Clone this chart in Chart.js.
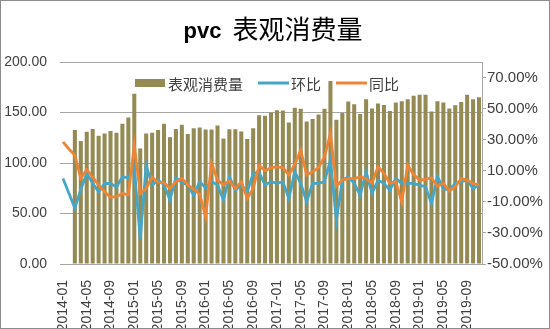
<!DOCTYPE html>
<html>
<head>
<meta charset="utf-8">
<script src="https://cdn.jsdelivr.net/npm/chart.js@4.4.0/dist/chart.umd.min.js"></script>
<style>
  html, body { margin: 0; padding: 0; background: #ffffff; }
  #wrap { width: 550px; height: 329px; }
</style>
</head>
<body>
<div id="wrap"><canvas id="c" width="550" height="329"></canvas></div>
<script>
// Months, 2014-01 .. 2019-11
const months = [
  '2014-01','2014-02','2014-03','2014-04','2014-05','2014-06','2014-07','2014-08','2014-09','2014-10','2014-11','2014-12',
  '2015-01','2015-02','2015-03','2015-04','2015-05','2015-06','2015-07','2015-08','2015-09','2015-10','2015-11','2015-12',
  '2016-01','2016-02','2016-03','2016-04','2016-05','2016-06','2016-07','2016-08','2016-09','2016-10','2016-11','2016-12',
  '2017-01','2017-02','2017-03','2017-04','2017-05','2017-06','2017-07','2017-08','2017-09','2017-10','2017-11','2017-12',
  '2018-01','2018-02','2018-03','2018-04','2018-05','2018-06','2018-07','2018-08','2018-09','2018-10','2018-11','2018-12',
  '2019-01','2019-02','2019-03','2019-04','2019-05','2019-06','2019-07','2019-08','2019-09','2019-10','2019-11'
];

// 表观消费量 (left axis)
const consumption = [
  null, null, 132.6, 121.7, 130.9, 133.6, 127, 129.3, 131.6, 129.9, 138.8, 145.1,
  168.6, 114.4, 129.3, 129.9, 132.6, 138.8, 125.6, 133.6, 137.9, 128.6, 134.5, 135.2,
  133.2, 133.2, 137.1, 124.2, 133.5, 133.5, 131.3, 123.8, 134.3, 147.3, 146.8, 150,
  152.3, 152, 140.2, 154.6, 153.7, 141, 143.6, 148, 153.8, 181.2, 142.8, 149.5,
  160.8, 158.2, 148.5, 163.2, 153.9, 158.8, 157.4, 151.6, 159.8, 161.2, 163.2, 166.7,
  167.5, 167.5, 151, 161.2, 159.8, 154, 157.3, 160.3, 167.5, 163.2, 165.2
];

// 环比, percent (right axis)
const mom = [
  5, -4.5, -14, -2, 8.3, 2, -3.5, 1.8, 1.8, -0.5, 6, 5.5,
  12, -34, 13.6, 0.8, 4, 1, -8.8, 5.5, 2.5, 1, -6, 3,
  -1, 3, 0.8, -8.8, 6.2, -2.4, 0.8, -3.5, 8.3, 9, 0.8, 3,
  1.9, 3, -7.8, 9.3, 1.9, -9.9, 1.9, 1.9, 3, 17, -21.7, 4,
  6, 1.9, -5.7, 9.3, -4.6, 4, 1.9, -2.5, 5, 1.9, 1.9, 1.9,
  0.8, -0.3, -11, 6.2, -1.4, -2.5, 1.9, 3, 4, -1.4, 0.8
];

// 同比, percent (right axis)
const yoy = [
  28.6, 24, 20, 5, 10.8, 6, 0.8, -3.5, -7, -6.7, -4.6, -5.5,
  26.5, -4.6, -1.4, 6, 2.5, 2.5, -1.4, 3, 5, 1, -2, -5,
  -19.6, 15, 4, 1, 3.5, -1.5, 3, -7.8, -1.4, 13.6, 10, 12,
  12.5, 12, 7.3, 14, 23.3, 7.3, 9.3, 12, 19, 34, 0, 4,
  5, 5, 6, 5, 2, 12.6, 8.3, 2, 3, -10, 13.6, 7.5,
  4, 4.5, 5.5, 0, 2, -3, -0.3, 5, 4, 1.9, 0.8
];

// Axis tick values
const leftTicks = [0, 50, 100, 150, 200];
const rightTicks = [-50, -30, -10, 10, 30, 50, 70];

const OLIVE = '#948A54';
const TEAL = '#45A7C5';
const ORANGE = '#EE8436';
const GRID = '#A6A6A6';
const TEXT = '#404040';
const LATIN = '"Liberation Sans", Arial, sans-serif';
const CJK = '"Noto Sans CJK SC", sans-serif';

// Title: bold latin part followed by the Chinese part
const titlePlugin = {
  id: 'mixedTitle',
  afterDraw(chart) {
    const ctx = chart.ctx;
    ctx.save();
    ctx.fillStyle = '#000000';
    ctx.textBaseline = 'alphabetic';
    const a = 'pvc';
    const b = '表观消费量';
    ctx.font = 'bold 22px ' + LATIN;
    const wa = ctx.measureText(a).width;
    ctx.font = '26px ' + CJK;
    const wb = ctx.measureText(b).width;
    const gap = 11;
    const cx = (chart.chartArea.left + chart.chartArea.right) / 2 + 2;
    let x = cx - (wa + gap + wb) / 2;
    ctx.font = 'bold 22px ' + LATIN;
    ctx.fillText(a, x, 38);
    ctx.font = '26px ' + CJK;
    ctx.fillText(b, x + wa + gap, 39);
    // outer frame
    ctx.strokeStyle = '#8C8C8C';
    ctx.lineWidth = 1;
    ctx.strokeRect(0.5, 0.5, chart.width - 1, chart.height - 1);
    ctx.restore();
  }
};

// Legend drawn inside the plot area, along its top edge
const legendPlugin = {
  id: 'innerLegend',
  afterDatasetsDraw(chart) {
    const ctx = chart.ctx;
    const area = chart.chartArea;
    const yMid = area.top + 21;
    ctx.save();
    ctx.font = '15px ' + CJK;
    ctx.textBaseline = 'middle';
    ctx.fillStyle = TEXT;
    let x = area.left + 75;
    const items = [
      { text: '表观消费量', kind: 'bar', color: OLIVE },
      { text: '环比', kind: 'line', color: TEAL },
      { text: '同比', kind: 'line', color: ORANGE }
    ];
    items.forEach(it => {
      if (it.kind === 'bar') {
        ctx.fillStyle = it.color;
        ctx.fillRect(x, yMid - 4, 30, 8);
      } else {
        ctx.strokeStyle = it.color;
        ctx.lineWidth = 3;
        ctx.beginPath();
        ctx.moveTo(x, yMid);
        ctx.lineTo(x + 31, yMid);
        ctx.stroke();
      }
      x += 33;
      ctx.fillStyle = TEXT;
      ctx.fillText(it.text, x, yMid + 1);
      x += ctx.measureText(it.text).width + 15;
    });
    ctx.restore();
  }
};

new Chart(document.getElementById('c'), {
  type: 'bar',
  data: {
    labels: months,
    datasets: [
      {
        type: 'line', label: '同比', data: yoy, yAxisID: 'y1',
        borderColor: ORANGE, borderWidth: 2.8, pointRadius: 0, tension: 0, order: 1
      },
      {
        type: 'line', label: '环比', data: mom, yAxisID: 'y1',
        borderColor: TEAL, borderWidth: 2.8, pointRadius: 0, tension: 0, order: 2
      },
      {
        type: 'bar', label: '表观消费量', data: consumption, yAxisID: 'y',
        backgroundColor: OLIVE, barPercentage: 0.68, categoryPercentage: 1.0, order: 3
      }
    ]
  },
  options: {
    responsive: false,
    animation: false,
    layout: { padding: { top: 62, left: 0, right: 0, bottom: 0 } },
    plugins: {
      legend: { display: false },
      title: { display: false },
      tooltip: { enabled: false }
    },
    scales: {
      x: {
        grid: { display: false },
        border: { display: true, color: GRID },
        ticks: {
          autoSkip: false,
          minRotation: 90,
          maxRotation: 90,
          padding: 8,
          color: TEXT,
          font: { family: LATIN, size: 14 },
          callback: function (v, i) { return i % 4 === 0 ? months[i] : ''; }
        },
        afterFit: s => { s.height = 65; }
      },
      y: {
        position: 'left',
        min: 0, max: 200,
        afterBuildTicks: s => { s.ticks = leftTicks.map(v => ({ value: v })); },
        grid: { color: GRID, drawTicks: false },
        border: { display: false },
        ticks: {
          padding: 13,
          color: TEXT,
          font: { family: LATIN, size: 14 },
          callback: v => Number(v).toFixed(2)
        },
        afterFit: s => { s.width = 60; }
      },
      y1: {
        position: 'right',
        min: -50, max: 80,
        afterBuildTicks: s => { s.ticks = rightTicks.map(v => ({ value: v })); },
        grid: { drawOnChartArea: false, drawTicks: true, tickLength: 4, color: GRID },
        border: { display: true, color: GRID },
        ticks: {
          padding: 1,
          color: TEXT,
          font: { family: LATIN, size: 15 },
          callback: v => Number(v).toFixed(2) + '%'
        },
        afterFit: s => { s.width = 68; }
      }
    }
  },
  plugins: [legendPlugin, titlePlugin]
});
</script>
</body>
</html>
